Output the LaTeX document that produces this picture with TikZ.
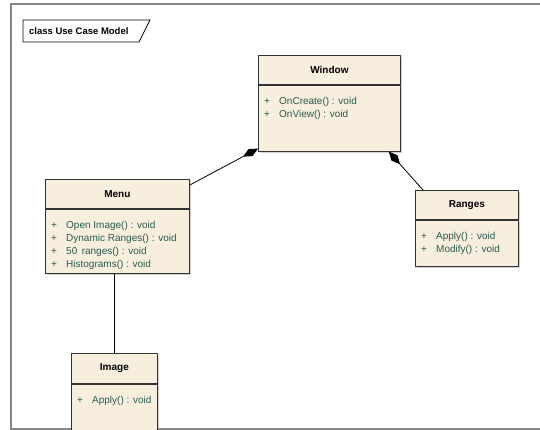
\documentclass[tikz,border=0pt]{standalone}
\usepackage{fontspec}
\setmainfont{Liberation Sans}
\usepackage{xcolor}
\usetikzlibrary{positioning,arrows.meta,shadows,calc}
\definecolor{clsfill}{RGB}{247,238,222}
\definecolor{optext}{RGB}{38,92,78}
\definecolor{framegray}{RGB}{135,135,135}
\newcommand{\opline}[1]{\makebox[15pt][l]{+}#1}

\begin{document}
\begin{tikzpicture}[x=1pt, y=-1pt, font=\fontsize{10}{13}\selectfont,
  cls/.style={draw=black!80, line width=0.8pt, fill=clsfill, inner sep=0pt, anchor=north west,
    drop shadow={shadow xshift=1.5pt, shadow yshift=-1.5pt, fill=black!35}},
  head/.style={cls, font=\fontsize{10}{13}\selectfont\bfseries},
  ops/.style={anchor=north west, align=left, inner sep=0pt, text=optext},
  comp/.style={draw=black, line width=0.8pt, -{Diamond[length=17pt,width=8pt]}}]
\useasboundingbox (0,0) rectangle (540,430);
\draw[framegray, line width=1.6pt] (540,4) -| (11,429) -- (540,429);
% diagram tag
\node[font=\fontsize{9.5}{11}\selectfont\bfseries, anchor=west, inner sep=0pt] (tag) at (29,31) {class Use Case Model};
\draw[line width=0.8pt] (23,20) -- (150,20) -- (139,42) -- (23,42) -- cycle;
% classes
\node[head, minimum width=142pt, minimum height=29pt] (winhead) at (258,55) {Window};
\node[cls, minimum width=142pt, minimum height=66pt] (winbody) at (winhead.south west) {};
\node[ops] (winops) at ([shift={(6pt,-12pt)}]winbody.north west) {\opline{OnCreate() : void}\\\opline{OnView() : void}};
\node[head, minimum width=144pt, minimum height=29pt] (menuhead) at (45,179) {Menu};
\node[cls, minimum width=144pt, minimum height=64pt] (menubody) at (menuhead.south west) {};
\node[ops] (menuops) at ([shift={(6pt,-12pt)}]menubody.north west) {\opline{Open Image() : void}\\\opline{Dynamic Ranges() : void}\\\opline{50\, ranges() : void}\\\opline{Histograms() : void}};
\node[head, minimum width=103pt, minimum height=29pt] (ranghead) at (415,190) {Ranges};
\node[cls, minimum width=103pt, minimum height=46pt] (rangbody) at (ranghead.south west) {};
\node[ops] (rangops) at ([shift={(6pt,-12pt)}]rangbody.north west) {\opline{Apply() : void}\\\opline{Modify() : void}};
\node[head, minimum width=86pt, minimum height=30pt] (imghead) at (71,353) {Image};
\node[cls, minimum width=86pt, minimum height=46pt] (imgbody) at (imghead.south west) {};
\node[ops] (imgops) at ([shift={(6pt,-12pt)}]imgbody.north west) {\opline{Apply() : void}};
% connectors
\draw[comp] ([yshift=-6pt]menuhead.north east) -- ([yshift=3pt]winbody.south west);
\draw[comp] ($(ranghead.north west)+(8,0)$) -- ($(winbody.south east)+(-12,0)$);
\draw[line width=0.8pt] (imghead.north) -- (imghead.north |- menubody.south);
\end{tikzpicture}
\end{document}
